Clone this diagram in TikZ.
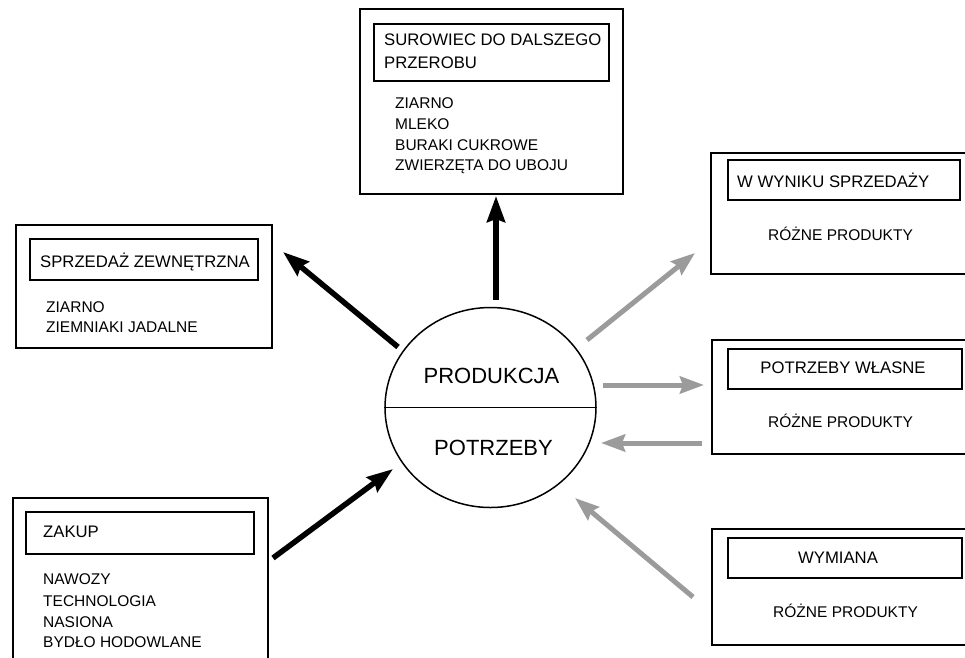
\documentclass[tikz,border=0pt]{standalone}
\usepackage{fontspec}
\setmainfont{Liberation Sans}
\usetikzlibrary{arrows.meta,shapes.geometric}
\definecolor{arrgray}{RGB}{155,155,155}
\tikzset{
  outerbox/.style={draw=black, line width=1.7pt, rectangle, inner sep=0pt, anchor=north west},
  innerbox/.style={draw=black, line width=1.5pt, rectangle, inner sep=0pt, anchor=north west},
  headtxt/.style={inner sep=0pt, anchor=base west, font=\fontsize{16.7}{19}\selectfont},
  itemtxt/.style={inner sep=0pt, anchor=base west, font=\fontsize{15.5}{19}\selectfont},
  bigtxt/.style={inner sep=0pt, anchor=base, font=\fontsize{22}{26}\selectfont},
  blackarrow/.style={draw=black, line width=5.5pt, -{Stealth[length=26pt,width=18pt,inset=3pt]}},
  grayarrow/.style={draw=arrgray, line width=5pt, -{Stealth[length=24pt,width=17pt,inset=3pt]}}
}
\begin{document}
\begin{tikzpicture}[x=1pt,y=-1pt]
\useasboundingbox (0,0) rectangle (965,657);
\clip (0,0) rectangle (965,657);
\fill[white] (0,0) rectangle (965,657);

% top box
\node[outerbox, minimum width=263pt, minimum height=185pt] (topo) at (359,8) {};
\node[innerbox, minimum width=235pt, minimum height=57pt] (topi) at (373,23) {};
\node[headtxt] (toph1) at (384,45) {SUROWIEC DO DALSZEGO};
\node[headtxt] (toph2) at (384,68) {PRZEROBU};
\node[itemtxt] (topt1) at (395,108) {ZIARNO};
\node[itemtxt] (topt2) at (395,129) {MLEKO};
\node[itemtxt] (topt3) at (395,150) {BURAKI CUKROWE};
\node[itemtxt] (topt4) at (395,170) {ZWIERZĘTA DO UBOJU};

% left box
\node[outerbox, minimum width=256pt, minimum height=123pt] (lefto) at (15,224) {};
\node[innerbox, minimum width=228pt, minimum height=41pt] (lefti) at (29,238) {};
\node[headtxt] (lefth) at (40,267) {SPRZEDAŻ ZEWNĘTRZNA};
\node[itemtxt] (leftt1) at (46,312) {ZIARNO};
\node[itemtxt] (leftt2) at (46,332) {ZIEMNIAKI JADALNE};

% W wyniku sprzedazy
\node[outerbox, minimum width=265pt, minimum height=121pt] (r1o) at (710,152) {};
\node[innerbox, minimum width=232pt, minimum height=40pt] (r1i) at (727,159) {};
\node[headtxt] (r1h) at (737,187) {W WYNIKU SPRZEDAŻY};
\node[itemtxt] (r1t) at (768,240) {RÓŻNE PRODUKTY};

% Potrzeby wlasne
\node[outerbox, minimum width=264pt, minimum height=114pt] (r2o) at (711,339) {};
\node[innerbox, minimum width=234pt, minimum height=40pt] (r2i) at (727,348) {};
\node[headtxt, anchor=base] (r2h) at (843,373) {POTRZEBY WŁASNE};
\node[itemtxt] (r2t) at (768,427) {RÓŻNE PRODUKTY};

% Wymiana
\node[outerbox, minimum width=264pt, minimum height=116pt] (r3o) at (711,528) {};
\node[innerbox, minimum width=234pt, minimum height=40pt] (r3i) at (727,537) {};
\node[headtxt, anchor=base] (r3h) at (838,563) {WYMIANA};
\node[itemtxt] (r3t) at (773,617) {RÓŻNE PRODUKTY};

% Zakup
\node[outerbox, minimum width=255pt, minimum height=180pt] (lbo) at (12,497) {};
\node[innerbox, minimum width=228pt, minimum height=42pt] (lbi) at (25,511) {};
\node[headtxt] (lbh) at (43,537) {ZAKUP};
\node[itemtxt] (lbt1) at (43,584) {NAWOZY};
\node[itemtxt] (lbt2) at (43,606) {TECHNOLOGIA};
\node[itemtxt] (lbt3) at (43,627) {NASIONA};
\node[itemtxt] (lbt4) at (43,647) {BYDŁO HODOWLANE};

% circle
\node[draw=black, line width=1.5pt, ellipse, inner sep=0pt, minimum width=211pt, minimum height=200pt] (circ) at (490.5,407.5) {};
\draw[line width=1.5pt] (circ.west) -- (circ.east);
\node[bigtxt] (prod) at (491.5,383) {PRODUKCJA};
\node[bigtxt] (potr) at (493.5,455) {POTRZEBY};

% arrow end points
\coordinate (a1s) at (496,300);
\coordinate (a1e) at (496,196);
\coordinate (a2s) at (398,347);
\coordinate (a2e) at (283,252);
\coordinate (a3s) at (273,558);
\coordinate (a3e) at (393,469);
\coordinate (g1s) at (587,340);
\coordinate (g1e) at (695,253);
\coordinate (g2s) at (603,385);
\coordinate (g2e) at (704,385);
\coordinate (g3s) at (702,443);
\coordinate (g3e) at (601,443);
\coordinate (g4s) at (693,597);
\coordinate (g4e) at (575,498);

\draw[blackarrow] (a1s) -- (a1e);
\draw[blackarrow] (a2s) -- (a2e);
\draw[blackarrow] (a3s) -- (a3e);
\draw[grayarrow] (g1s) -- (g1e);
\draw[grayarrow] (g2s) -- (g2e);
\draw[grayarrow] (g3s) -- (g3e);
\draw[grayarrow] (g4s) -- (g4e);
\end{tikzpicture}
\end{document}
